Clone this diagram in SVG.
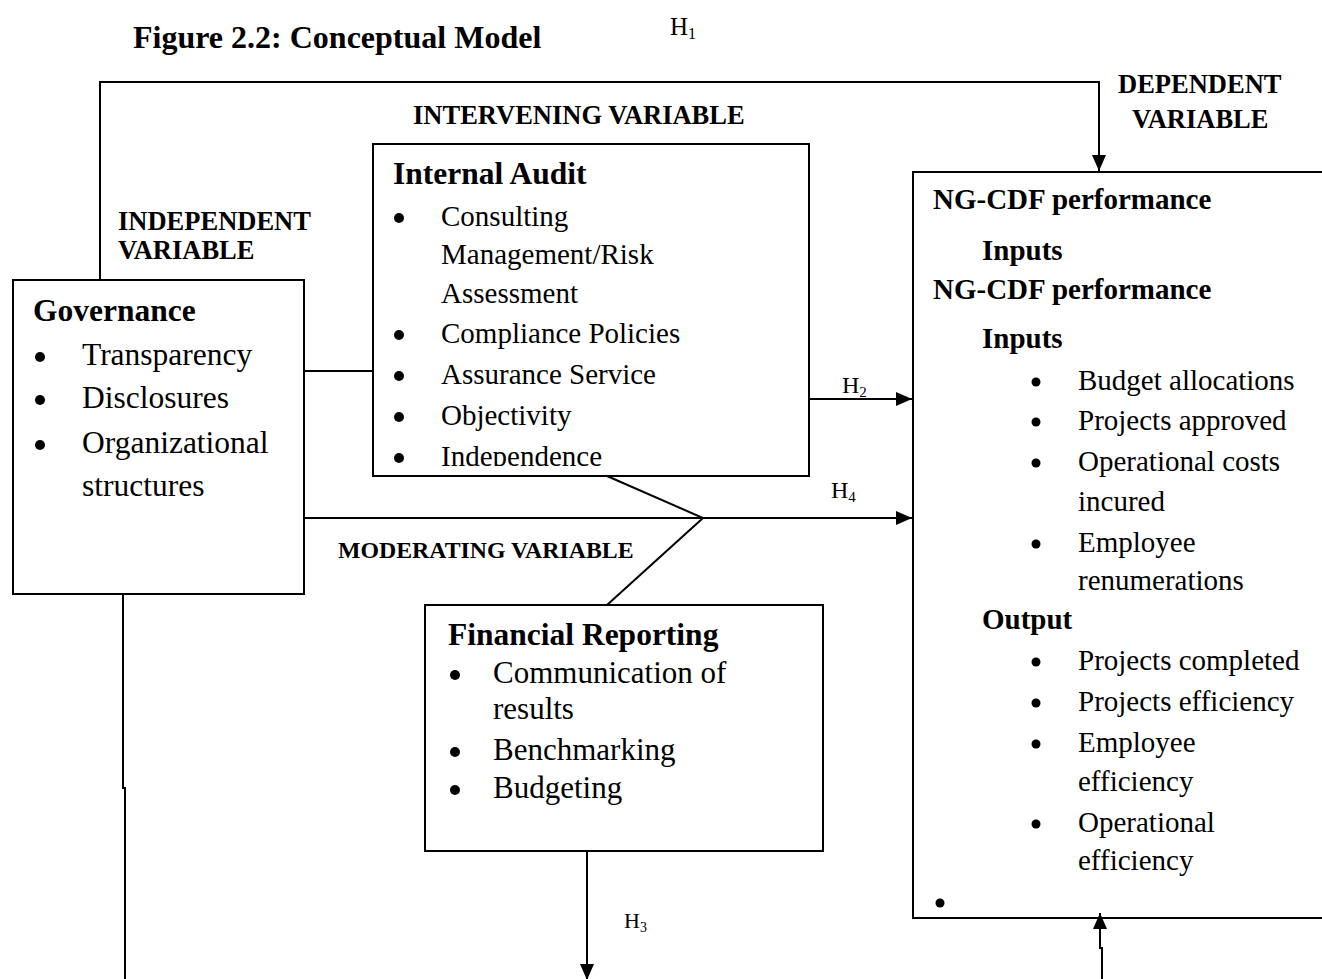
<svg xmlns="http://www.w3.org/2000/svg" width="1322" height="979" viewBox="0 0 1322 979">
<style>
text{font-family:"Liberation Serif","Times New Roman",serif;fill:#000}
.b{font-weight:bold}
.lbl{font-weight:bold;font-size:26.5px}
.box{fill:#fff;stroke:#000;stroke-width:2}
.ln{fill:none;stroke:#000;stroke-width:2}
.bul{fill:#000}
</style>
<defs>
<marker id="ah" viewBox="0 0 16 14" refX="16" refY="7" markerWidth="16" markerHeight="14" markerUnits="userSpaceOnUse" orient="auto">
<path d="M0,0 L16,7 L0,14 z" fill="#000"/>
</marker>
<clipPath id="iaclip"><rect x="373" y="145" width="435" height="321"/></clipPath>
</defs>
<rect width="1322" height="979" fill="#fff"/>

<g id="title">
<text class="b" x="133" y="48" font-size="32">Figure 2.2: Conceptual Model</text>
<text x="670" y="35" font-size="25">H<tspan font-size="16" dy="4">1</tspan></text>
</g>

<g id="labels">
<text class="lbl" x="413" y="124">INTERVENING VARIABLE</text>
<text class="lbl" x="118" y="230">INDEPENDENT</text>
<text class="lbl" x="118" y="259">VARIABLE</text>
<text class="lbl" x="1118" y="93">DEPENDENT</text>
<text class="lbl" x="1132" y="128">VARIABLE</text>
<text class="b" x="338" y="558" font-size="23.8">MODERATING VARIABLE</text>
</g>

<g id="governance">
<rect class="box" x="13" y="280" width="291" height="314"/>
<text class="b" x="33" y="321" font-size="31.5">Governance</text>
<circle class="bul" cx="40" cy="357" r="5"/>
<text x="82" y="365" font-size="31.5">Transparency</text>
<circle class="bul" cx="40" cy="400" r="5"/>
<text x="82" y="408" font-size="31.5">Disclosures</text>
<circle class="bul" cx="40" cy="445" r="5"/>
<text x="82" y="453" font-size="31.5">Organizational</text>
<text x="82" y="496" font-size="31.5">structures</text>
</g>

<g id="internal-audit">
<rect class="box" x="373" y="144" width="436" height="332"/>
<text class="b" x="393" y="184" font-size="31.5">Internal Audit</text>
<g font-size="29" clip-path="url(#iaclip)">
<circle class="bul" cx="399" cy="218" r="5"/>
<text x="441" y="226">Consulting</text>
<text x="441" y="264">Management/Risk</text>
<text x="441" y="303">Assessment</text>
<circle class="bul" cx="399" cy="335" r="5"/>
<text x="441" y="343">Compliance Policies</text>
<circle class="bul" cx="399" cy="376" r="5"/>
<text x="441" y="384">Assurance Service</text>
<circle class="bul" cx="399" cy="417" r="5"/>
<text x="441" y="425">Objectivity</text>
<circle class="bul" cx="399" cy="458" r="5"/>
<text x="441" y="466">Independence</text>
</g>
</g>

<g id="financial-reporting">
<rect class="box" x="425" y="605" width="398" height="246"/>
<text class="b" x="448" y="645" font-size="31.5">Financial Reporting</text>
<g font-size="31">
<circle class="bul" cx="455" cy="675" r="5"/>
<text x="493" y="683">Communication of</text>
<text x="493" y="719">results</text>
<circle class="bul" cx="455" cy="752" r="5"/>
<text x="493" y="760">Benchmarking</text>
<circle class="bul" cx="455" cy="790" r="5"/>
<text x="493" y="798">Budgeting</text>
</g>
</g>

<g id="ng-cdf-performance">
<rect class="box" x="913" y="172" width="420" height="746"/>
<g font-size="29">
<text class="b" x="933" y="209">NG-CDF performance</text>
<text class="b" x="982" y="260">Inputs</text>
<text class="b" x="933" y="299">NG-CDF performance</text>
<text class="b" x="982" y="348">Inputs</text>
<circle class="bul" cx="1036" cy="382" r="4.5"/>
<text x="1078" y="390">Budget allocations</text>
<circle class="bul" cx="1036" cy="422" r="4.5"/>
<text x="1078" y="430">Projects approved</text>
<circle class="bul" cx="1036" cy="463" r="4.5"/>
<text x="1078" y="471">Operational costs</text>
<text x="1078" y="511">incured</text>
<circle class="bul" cx="1036" cy="544" r="4.5"/>
<text x="1078" y="552">Employee</text>
<text x="1078" y="590">renumerations</text>
<text class="b" x="982" y="629">Output</text>
<circle class="bul" cx="1036" cy="662" r="4.5"/>
<text x="1078" y="670">Projects completed</text>
<circle class="bul" cx="1036" cy="703" r="4.5"/>
<text x="1078" y="711">Projects efficiency</text>
<circle class="bul" cx="1036" cy="744" r="4.5"/>
<text x="1078" y="752">Employee</text>
<text x="1078" y="791">efficiency</text>
<circle class="bul" cx="1036" cy="824" r="4.5"/>
<text x="1078" y="832">Operational</text>
<text x="1078" y="870">efficiency</text>
<circle class="bul" cx="940" cy="903" r="4.5"/>
</g>
</g>

<g id="connectors">
<polyline class="ln" points="100,280 100,82 1099,82 1099,171" marker-end="url(#ah)"/>
<line class="ln" x1="304" y1="371" x2="373" y2="371"/>
<line class="ln" x1="809" y1="399" x2="912" y2="399" marker-end="url(#ah)"/>
<line class="ln" x1="304" y1="518" x2="912" y2="518" marker-end="url(#ah)"/>
<polyline class="ln" points="607,476 703,518 607,605"/>
<line class="ln" x1="587" y1="851" x2="587" y2="980" marker-end="url(#ah)"/>
<polyline class="ln" points="123,594 123,788 125,788 125,979"/>
<polyline class="ln" points="1102,979 1102,948 1100,948 1100,913" marker-end="url(#ah)"/>
<text x="842" y="393" font-size="24">H<tspan font-size="15" dy="4">2</tspan></text>
<text x="831" y="498" font-size="24">H<tspan font-size="15" dy="4">4</tspan></text>
<text x="624" y="928" font-size="22">H<tspan font-size="14" dy="4">3</tspan></text>
</g>
</svg>
